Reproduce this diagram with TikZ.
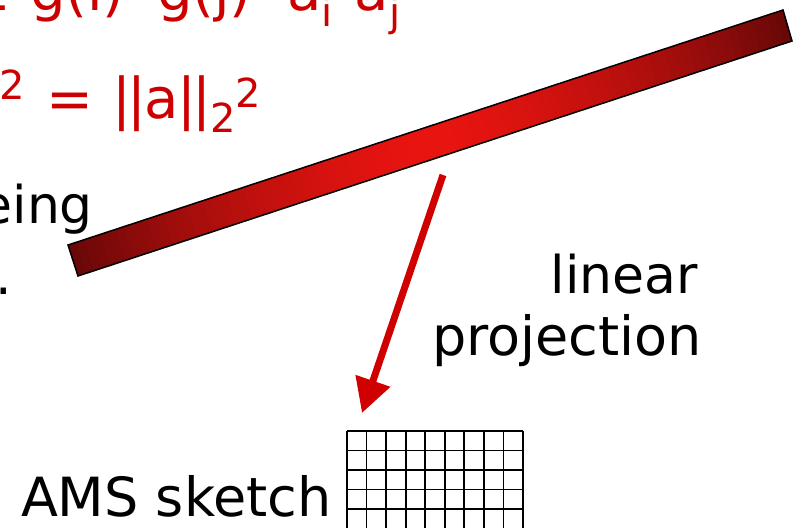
\documentclass[tikz,border=0pt]{standalone}
\usepackage{fontspec}
\setmainfont{DejaVu Sans}
\usetikzlibrary{arrows.meta,calc}
\definecolor{txtred}{RGB}{204,0,0}
\definecolor{bardark}{RGB}{105,8,8}
\definecolor{barlight}{RGB}{232,20,16}
\definecolor{arrred}{RGB}{208,0,0}
\begin{document}
\begin{tikzpicture}[x=1pt,y=-1pt,
  lbl/.style={inner sep=0pt, outer sep=0pt, anchor=base west, font=\fontsize{52}{60}\selectfont},
  redlbl/.style={inner sep=0pt, outer sep=0pt, anchor=base west, text=txtred, font=\fontsize{56}{64}\selectfont},
  redsmall/.style={redlbl, font=\fontsize{40}{46}\selectfont},
  gridline/.style={line width=1.8pt, black},
  barline/.style={line width=1.5pt, black, line join=miter},
  proj/.style={arrred, line width=7pt, -{Triangle[length=34pt,width=35pt]}},
]
\useasboundingbox (0,0) rectangle (802,527);
\clip (0,0) rectangle (802,527);

% red formula, line 1 (cut off at the left and top edges)
\node[redlbl] (sg) at (-27,11) {Σ};
\node[redlbl] (gi) at (30,11) {g(i)};
\node[redlbl] (gj) at (157,11) {g(j)};
\node[redlbl] (ai) at (287,11) {a};
\node[redsmall] (si) at (321,27) {i};
\node[redlbl] (aj) at (354,11) {a};
\node[redsmall] (sj) at (389,27) {j};

% red formula, line 2
\node[redsmall] (q1) at (-1,99) {2};
\node[redlbl] (eq) at (46,118) {=};
\node[redlbl] (na) at (112,118) {|\kern-3pt|\kern-2pt a\kern-2pt|\kern-3pt|};
\node[redsmall] (q2) at (210,132) {2};
\node[redsmall] (q3) at (235,107) {2};

% black text fragments
\node[lbl, anchor=base east] (l3) at (93,223) {eing};
\node[lbl] (l4) at (-5,294) {.};

% shaded bar
\coordinate (b1) at (68,245);
\coordinate (b2) at (783,10);
\coordinate (b3) at (792,41);
\coordinate (b4) at (78,276);
\foreach \k in {0,...,89} {
  \pgfmathsetmacro{\ta}{\k/90}
  \pgfmathsetmacro{\tb}{min(1,(\k+1.6)/90)}
  \pgfmathtruncatemacro{\p}{100*(1-(abs(2*(\k+0.5)/90-1))^1.6)}
  \fill[barlight!\p!bardark] ($(b4)!\ta!(b3)$) -- ($(b4)!\tb!(b3)$) -- ($(b1)!\tb!(b2)$) -- ($(b1)!\ta!(b2)$) -- cycle;
}
\draw[barline] (b1) -- (b2) -- (b3) -- (b4) -- cycle;

% projection arrow
\coordinate (arrS) at (443,175);
\coordinate (arrE) at (362,413);
\draw[proj] (arrS) -- (arrE);

\node[lbl, anchor=base east] (lin) at (698,293) {linear};
\node[lbl, anchor=base east, font=\fontsize{54}{60}\selectfont] (prj) at (702,355) {projection};

% sketch grid
\foreach \i in {0,...,9} \draw[gridline] (347+\i*19.55,431) -- (347+\i*19.55,540);
\foreach \j in {0,...,5} \draw[gridline] (347,431+\j*19.5) -- (523,431+\j*19.5);
\node[lbl, font=\fontsize{54}{60}\selectfont] (ams) at (21,516) {AMS sketch};
\end{tikzpicture}
\end{document}
